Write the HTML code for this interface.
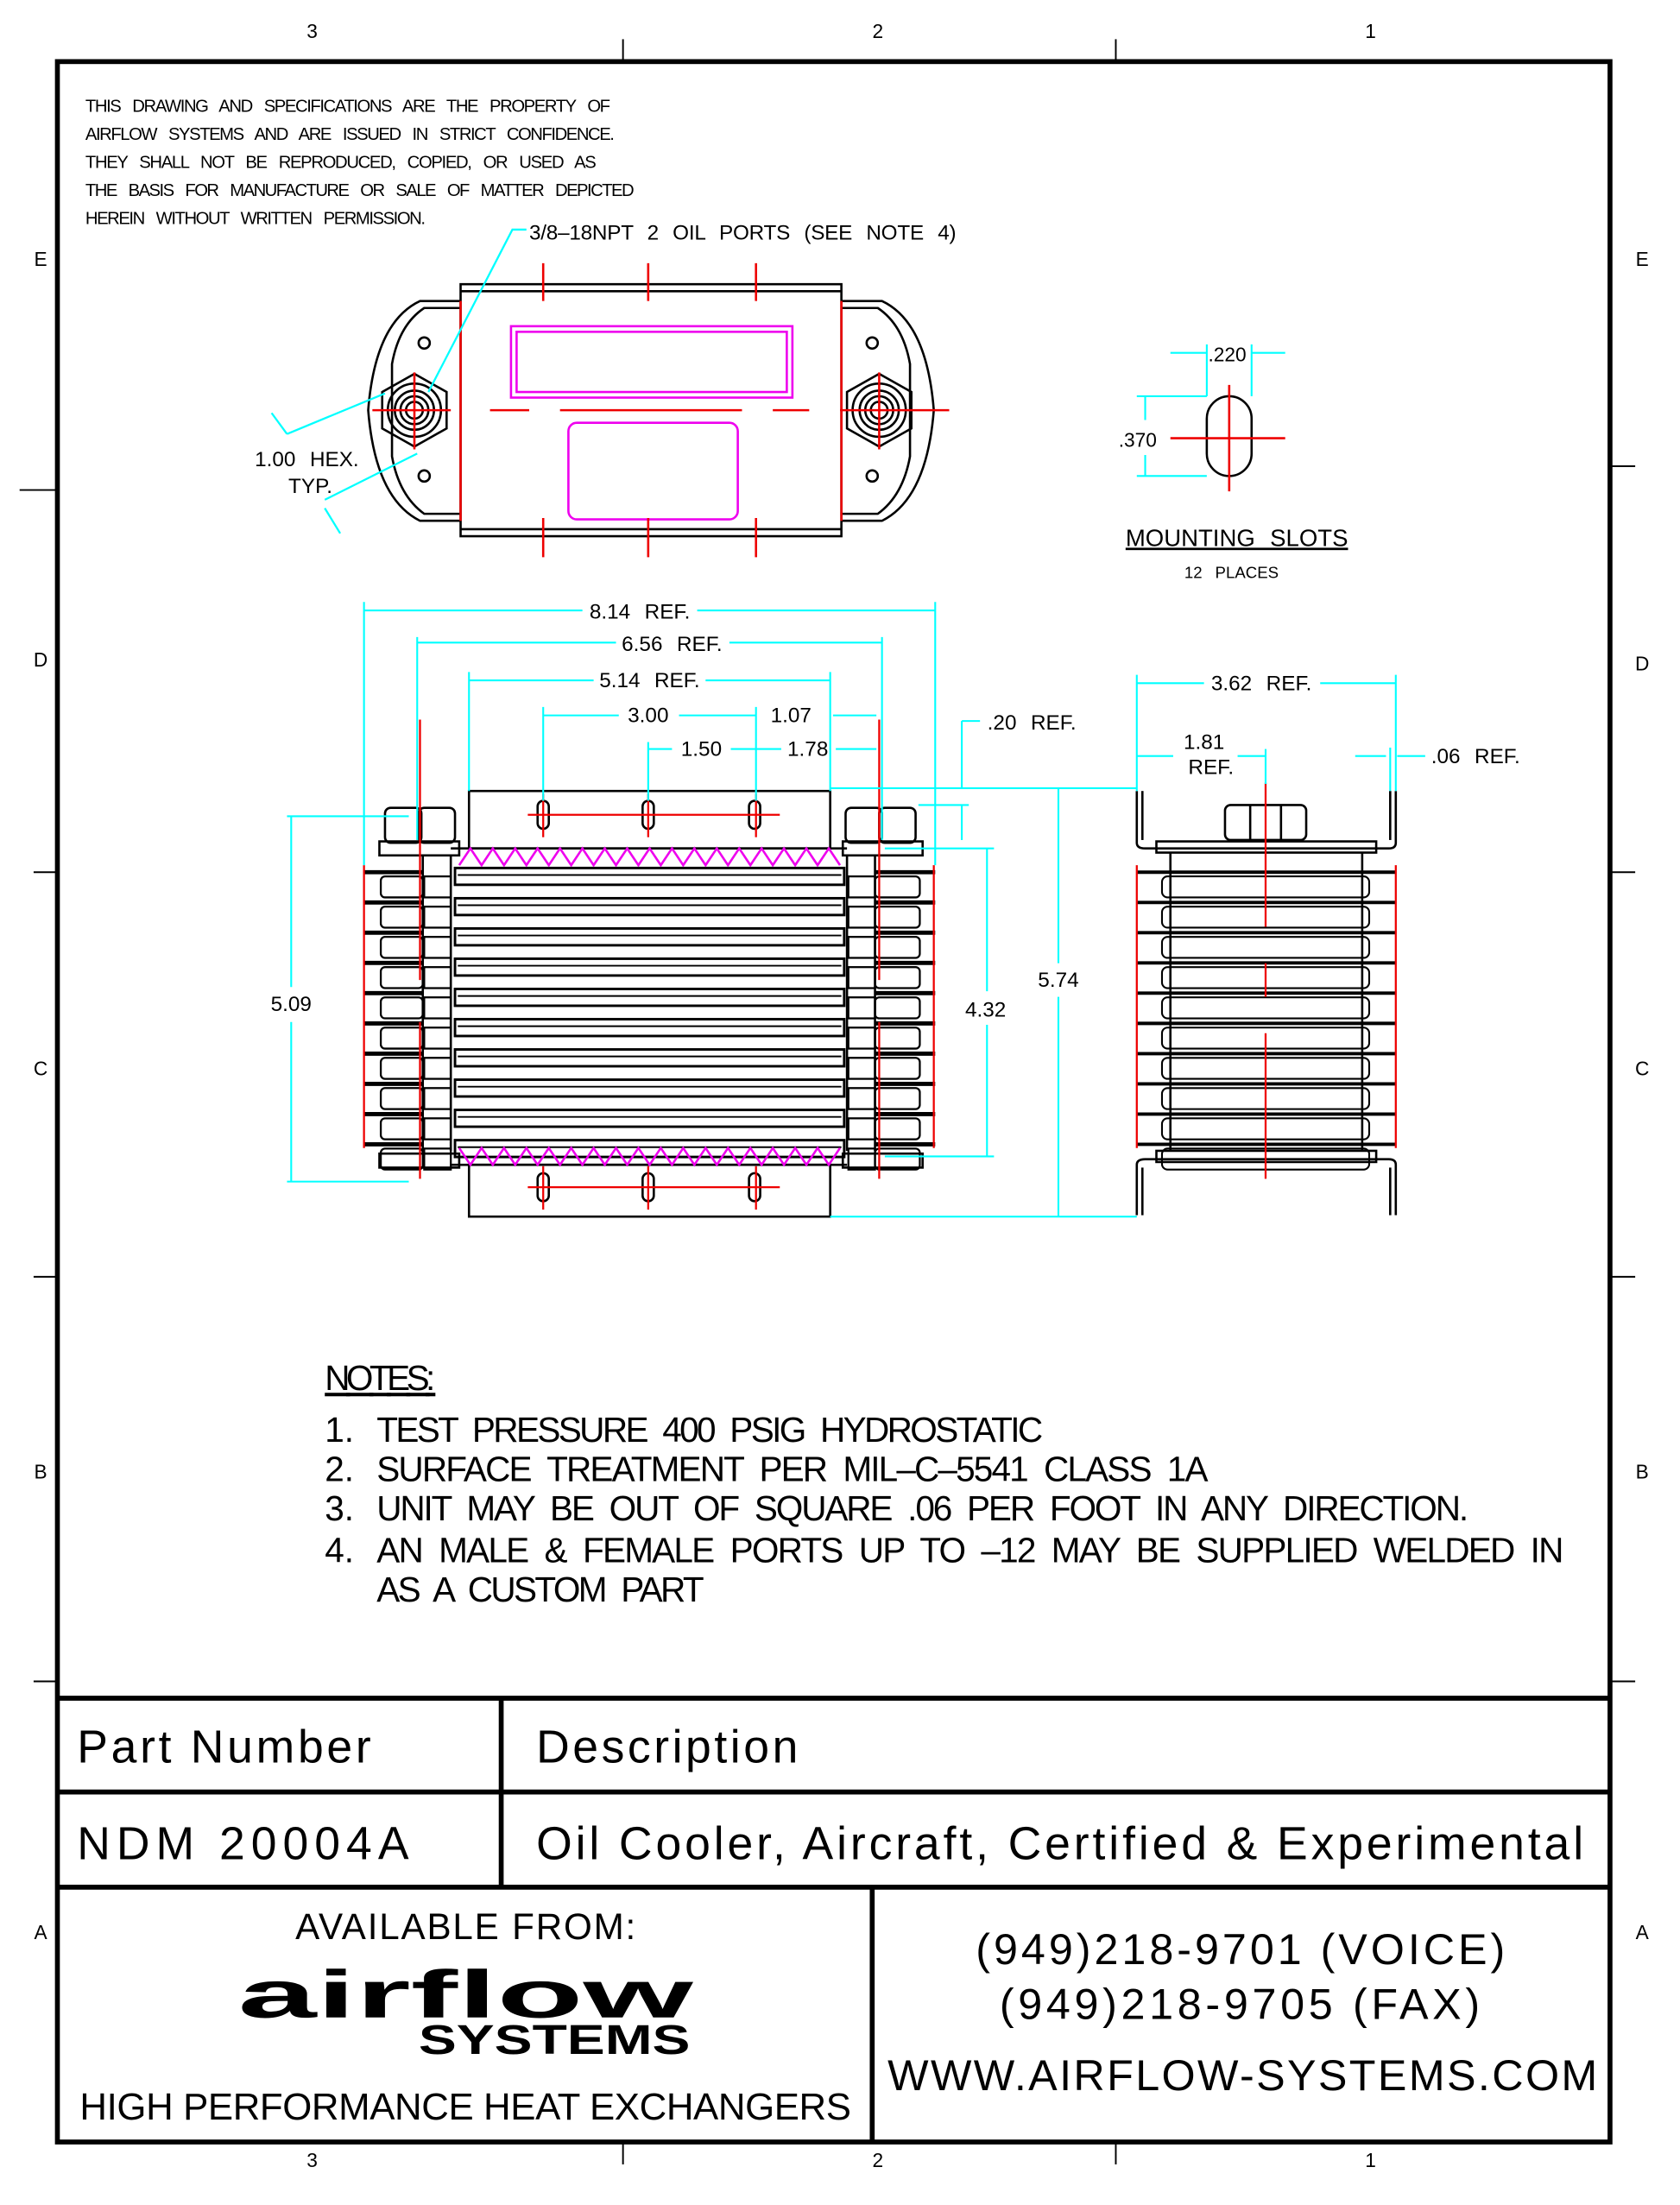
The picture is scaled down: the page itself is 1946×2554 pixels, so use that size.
<!DOCTYPE html>
<html><head><meta charset="utf-8"><style>
html,body{margin:0;padding:0;background:#fff}
svg{display:block}
text{font-family:"Liberation Sans",sans-serif;fill:#000}
.ws{word-spacing:6px}
</style></head><body>
<svg id="s" width="1946" height="2554" viewBox="0 0 1200 1575" preserveAspectRatio="none" xmlns="http://www.w3.org/2000/svg">
<rect x="0" y="0" width="1200" height="1575" fill="#fff"/>
<rect x="41" y="44" width="1109" height="1486" fill="none" stroke="#000" stroke-width="3.5"/>
<g stroke="#000" stroke-width="1.2">
<line x1="445" y1="28" x2="445" y2="44"/><line x1="797" y1="28" x2="797" y2="44"/>
<line x1="445" y1="1530" x2="445" y2="1546"/><line x1="797" y1="1530" x2="797" y2="1546"/>
<line x1="14" y1="350" x2="41" y2="350"/><line x1="24" y1="623" x2="41" y2="623"/><line x1="24" y1="912" x2="41" y2="912"/><line x1="24" y1="1201" x2="41" y2="1201"/>
<line x1="1150" y1="333" x2="1168" y2="333"/><line x1="1150" y1="623" x2="1168" y2="623"/><line x1="1150" y1="912" x2="1168" y2="912"/><line x1="1150" y1="1201" x2="1168" y2="1201"/>
</g>
<g font-size="14" text-anchor="middle">
<text x="223" y="27">3</text><text x="627" y="27">2</text><text x="979" y="27">1</text>
<text x="223" y="1548">3</text><text x="627" y="1548">2</text><text x="979" y="1548">1</text>
<text x="29" y="190">E</text><text x="29" y="476">D</text><text x="29" y="768">C</text><text x="29" y="1056">B</text><text x="29" y="1385">A</text>
<text x="1173" y="190">E</text><text x="1173" y="479">D</text><text x="1173" y="768">C</text><text x="1173" y="1056">B</text><text x="1173" y="1385">A</text>
</g>
<g font-size="12.5" class="ws">
<text x="61" y="80" textLength="375">THIS DRAWING AND SPECIFICATIONS ARE THE PROPERTY OF</text>
<text x="61" y="100" textLength="378">AIRFLOW SYSTEMS AND ARE ISSUED IN STRICT CONFIDENCE.</text>
<text x="61" y="120" textLength="365">THEY SHALL NOT BE REPRODUCED, COPIED, OR USED AS</text>
<text x="61" y="140" textLength="392">THE BASIS FOR MANUFACTURE OR SALE OF MATTER DEPICTED</text>
<text x="61" y="160" textLength="243">HEREIN WITHOUT WRITTEN PERMISSION.</text>
</g>
<text x="378" y="171" font-size="15" class="ws" textLength="305">3/8–18NPT 2 OIL PORTS (SEE NOTE 4)</text>

<g fill="none" stroke="#000" stroke-width="1.6">
<rect x="329" y="203" width="272" height="180"/>
<line x1="329" y1="208" x2="601" y2="208"/><line x1="329" y1="378" x2="601" y2="378"/>
<path d="M329 215 L300 215 Q268 230 263 293 Q268 356 300 372 L329 372"/>
<path d="M329 220 L303 220 Q285 232 280 260 L280 326 Q285 354 303 367 L329 367"/>
<path d="M601 215 L630 215 Q662 230 667 293 Q662 356 630 372 L601 372"/>
<path d="M601 220 L627 220 Q645 232 650 260 L650 326 Q645 354 627 367 L601 367"/>
<polygon points="296,267 319,280 319,306 296,319 273,306 273,280"/>
<polygon points="628,267 651,280 651,306 628,319 605,306 605,280"/>
<circle cx="296" cy="293" r="19"/><circle cx="296" cy="293" r="14"/><circle cx="296" cy="293" r="10"/><circle cx="296" cy="293" r="6"/>
<circle cx="628" cy="293" r="19"/><circle cx="628" cy="293" r="14"/><circle cx="628" cy="293" r="10"/><circle cx="628" cy="293" r="6"/>
<circle cx="303" cy="245" r="4"/><circle cx="303" cy="340" r="4"/><circle cx="623" cy="245" r="4"/><circle cx="623" cy="340" r="4"/>
</g>
<g fill="none" stroke="#e0e" stroke-width="1.6">
<rect x="365" y="233" width="201" height="51"/><rect x="369" y="237" width="193" height="43"/>
<rect x="406" y="302" width="121" height="69" rx="6"/>
</g>
<g stroke="#e00" stroke-width="1.6">
<line x1="266" y1="293" x2="322" y2="293"/><line x1="350" y1="293" x2="378" y2="293"/><line x1="400" y1="293" x2="530" y2="293"/><line x1="552" y1="293" x2="578" y2="293"/><line x1="600" y1="293" x2="678" y2="293"/>
<line x1="296" y1="266" x2="296" y2="321"/><line x1="628" y1="266" x2="628" y2="321"/>
<line x1="388" y1="188" x2="388" y2="215"/><line x1="463" y1="188" x2="463" y2="215"/><line x1="540" y1="188" x2="540" y2="215"/>
<line x1="388" y1="370" x2="388" y2="398"/><line x1="463" y1="370" x2="463" y2="398"/><line x1="540" y1="370" x2="540" y2="398"/>
<line x1="329" y1="215" x2="329" y2="372"/><line x1="601" y1="215" x2="601" y2="372"/>
</g>
<g stroke="#0ff" stroke-width="1.4" fill="none">
<polyline points="376,164 366,164 306,280"/>
<line x1="194" y1="295" x2="205" y2="310"/><line x1="205" y1="310" x2="275" y2="281"/>
<line x1="232" y1="363" x2="243" y2="381"/><line x1="232" y1="357" x2="298" y2="324"/>
</g>
<text x="182" y="333" font-size="15" class="ws">1.00 HEX.</text><text x="206" y="352" font-size="15">TYP.</text>

<rect x="862" y="283" width="32" height="57" rx="16" fill="none" stroke="#000" stroke-width="1.6"/>
<g stroke="#e00" stroke-width="1.6"><line x1="836" y1="313" x2="918" y2="313"/><line x1="878" y1="275" x2="878" y2="351"/></g>
<g stroke="#0ff" stroke-width="1.3"><line x1="862" y1="246" x2="862" y2="283"/><line x1="894" y1="246" x2="894" y2="283"/><line x1="836" y1="252" x2="862" y2="252"/><line x1="894" y1="252" x2="918" y2="252"/>
<line x1="812" y1="283" x2="862" y2="283"/><line x1="812" y1="340" x2="862" y2="340"/><line x1="818" y1="283" x2="818" y2="300"/><line x1="818" y1="325" x2="818" y2="340"/></g>
<text x="863" y="258" font-size="14">.220</text>
<text x="799" y="319" font-size="14">.370</text>
<text x="804" y="390" font-size="17" text-decoration="underline" class="ws">MOUNTING SLOTS</text>
<text x="846" y="413" font-size="11.5" class="ws">12 PLACES</text>

<g fill="none" stroke="#000" stroke-width="1.6">
<rect x="335" y="565" width="258" height="41"/>
<rect x="335" y="832" width="258" height="37"/>
<rect x="275" y="577" width="26" height="25" rx="4"/><rect x="299" y="577" width="26" height="25" rx="4"/>
<rect x="604" y="577" width="26" height="25" rx="4"/><rect x="628" y="577" width="26" height="25" rx="4"/>
<rect x="271" y="601" width="57" height="10"/><rect x="602" y="601" width="57" height="10"/>
<rect x="271" y="824" width="57" height="10"/><rect x="602" y="824" width="57" height="10"/>
<line x1="322" y1="606" x2="605" y2="606"/><line x1="322" y1="832" x2="605" y2="832"/>
<line x1="302" y1="611" x2="302" y2="822"/><line x1="322" y1="611" x2="322" y2="822"/>
<line x1="605" y1="611" x2="605" y2="822"/><line x1="625" y1="611" x2="625" y2="822"/>
</g>
<g id="fins"></g>
<g id="zz" fill="none" stroke="#e0e" stroke-width="1.6"></g>
<g fill="none" stroke="#000" stroke-width="1.6">
<rect x="384" y="572" width="8" height="20" rx="4"/><rect x="459" y="572" width="8" height="20" rx="4"/><rect x="535" y="572" width="8" height="20" rx="4"/>
<rect x="384" y="838" width="8" height="20" rx="4"/><rect x="459" y="838" width="8" height="20" rx="4"/><rect x="535" y="838" width="8" height="20" rx="4"/>
</g>
<g stroke="#e00" stroke-width="1.4">
<line x1="300" y1="514" x2="300" y2="700"/><line x1="300" y1="730" x2="300" y2="842"/>
<line x1="628" y1="514" x2="628" y2="700"/><line x1="628" y1="730" x2="628" y2="842"/>
<line x1="377" y1="582" x2="557" y2="582"/><line x1="377" y1="848" x2="557" y2="848"/>
<line x1="388" y1="567" x2="388" y2="598"/><line x1="463" y1="567" x2="463" y2="598"/><line x1="540" y1="567" x2="540" y2="598"/>
<line x1="388" y1="833" x2="388" y2="864"/><line x1="463" y1="833" x2="463" y2="864"/><line x1="540" y1="833" x2="540" y2="864"/>
<line x1="260" y1="618" x2="260" y2="820"/><line x1="667" y1="618" x2="667" y2="820"/>
</g>
<g stroke="#0ff" stroke-width="1.3" fill="none">
<line x1="260" y1="430" x2="260" y2="618"/><line x1="668" y1="430" x2="668" y2="618"/>
<line x1="260" y1="436" x2="416" y2="436"/><line x1="498" y1="436" x2="668" y2="436"/>
<line x1="298" y1="455" x2="298" y2="600"/><line x1="630" y1="455" x2="630" y2="600"/>
<line x1="298" y1="459" x2="440" y2="459"/><line x1="521" y1="459" x2="630" y2="459"/>
<line x1="335" y1="480" x2="335" y2="565"/><line x1="593" y1="480" x2="593" y2="565"/>
<line x1="335" y1="486" x2="424" y2="486"/><line x1="504" y1="486" x2="593" y2="486"/>
<line x1="388" y1="505" x2="388" y2="572"/><line x1="540" y1="505" x2="540" y2="572"/><line x1="463" y1="530" x2="463" y2="572"/>
<line x1="388" y1="511" x2="442" y2="511"/><line x1="485" y1="511" x2="540" y2="511"/>
<line x1="595" y1="511" x2="626" y2="511"/>
<line x1="463" y1="535" x2="480" y2="535"/><line x1="522" y1="535" x2="558" y2="535"/><line x1="597" y1="535" x2="626" y2="535"/>
<line x1="205" y1="583" x2="292" y2="583"/><line x1="205" y1="844" x2="292" y2="844"/>
<line x1="208" y1="583" x2="208" y2="705"/><line x1="208" y1="730" x2="208" y2="844"/>
<line x1="632" y1="606" x2="710" y2="606"/><line x1="632" y1="826" x2="710" y2="826"/>
<line x1="705" y1="606" x2="705" y2="708"/><line x1="705" y1="732" x2="705" y2="826"/>
<line x1="593" y1="563" x2="812" y2="563"/><line x1="593" y1="869" x2="812" y2="869"/>
<line x1="756" y1="563" x2="756" y2="688"/><line x1="756" y1="712" x2="756" y2="869"/>
<line x1="656" y1="575" x2="692" y2="575"/><line x1="687" y1="515" x2="687" y2="563"/><line x1="687" y1="575" x2="687" y2="600"/><line x1="687" y1="515" x2="700" y2="515"/>
</g>
<g font-size="15" text-anchor="middle" class="ws">
<text x="457" y="442">8.14 REF.</text><text x="480" y="465">6.56 REF.</text><text x="464" y="491">5.14 REF.</text>
<text x="463" y="516">3.00</text><text x="565" y="516">1.07</text><text x="501" y="540">1.50</text><text x="577" y="540">1.78</text>
<text x="208" y="722">5.09</text><text x="704" y="726">4.32</text><text x="756" y="705">5.74</text>
<text x="737" y="521">.20 REF.</text>
<text x="901" y="493">3.62 REF.</text><text x="860" y="535">1.81</text><text x="865" y="553">REF.</text><text x="1054" y="545">.06 REF.</text>
</g>

<g fill="none" stroke="#000" stroke-width="1.6">
<path d="M812 565 L812 602 Q812 606 818 606 L992 606 Q997 606 997 602 L997 565"/>
<line x1="816" y1="565" x2="816" y2="600"/><line x1="993" y1="565" x2="993" y2="600"/>
<path d="M812 868 L812 832 Q812 828 818 828 L992 828 Q997 828 997 832 L997 868"/>
<line x1="816" y1="868" x2="816" y2="834"/><line x1="993" y1="868" x2="993" y2="834"/>
<rect x="875" y="575" width="58" height="25" rx="4"/><line x1="893" y1="575" x2="893" y2="600"/><line x1="915" y1="575" x2="915" y2="600"/>
<rect x="826" y="601" width="157" height="8"/><rect x="826" y="822" width="157" height="8"/>
<line x1="836" y1="609" x2="836" y2="822"/><line x1="973" y1="609" x2="973" y2="822"/>
</g>
<g id="sfins"></g>
<g stroke="#e00" stroke-width="1.4"><line x1="904" y1="559" x2="904" y2="662"/><line x1="904" y1="688" x2="904" y2="712"/><line x1="904" y1="738" x2="904" y2="842"/><line x1="812" y1="618" x2="812" y2="820"/><line x1="997" y1="618" x2="997" y2="820"/></g>
<g stroke="#0ff" stroke-width="1.3">
<line x1="812" y1="482" x2="812" y2="565"/><line x1="997" y1="482" x2="997" y2="565"/>
<line x1="812" y1="488" x2="860" y2="488"/><line x1="943" y1="488" x2="997" y2="488"/>
<line x1="904" y1="535" x2="904" y2="560"/><line x1="812" y1="540" x2="838" y2="540"/><line x1="884" y1="540" x2="904" y2="540"/>
<line x1="968" y1="540" x2="990" y2="540"/><line x1="998" y1="540" x2="1018" y2="540"/><line x1="993" y1="534" x2="993" y2="565"/>
</g>

<g font-size="25" class="ws">
<text x="232" y="993" text-decoration="underline" textLength="79">NOTES:</text>
<text x="232" y="1030">1.</text><text x="269" y="1030" textLength="476">TEST PRESSURE 400 PSIG HYDROSTATIC</text>
<text x="232" y="1058">2.</text><text x="269" y="1058" textLength="594">SURFACE TREATMENT PER MIL–C–5541 CLASS 1A</text>
<text x="232" y="1086">3.</text><text x="269" y="1086" textLength="780">UNIT MAY BE OUT OF SQUARE .06 PER FOOT IN ANY DIRECTION.</text>
<text x="232" y="1116">4.</text><text x="269" y="1116" textLength="848">AN MALE &amp; FEMALE PORTS UP TO –12 MAY BE SUPPLIED WELDED IN</text>
<text x="269" y="1144" textLength="234">AS A CUSTOM PART</text>
</g>

<g stroke="#000" stroke-width="3.5">
<line x1="41" y1="1213" x2="1150" y2="1213"/><line x1="41" y1="1280" x2="1150" y2="1280"/><line x1="41" y1="1348" x2="1150" y2="1348"/>
<line x1="358" y1="1213" x2="358" y2="1348"/><line x1="623" y1="1348" x2="623" y2="1530"/>
</g>
<g font-size="33">
<text x="55" y="1259" textLength="210">Part Number</text>
<text x="383" y="1259" textLength="187">Description</text>
<text x="55" y="1328" textLength="237">NDM 20004A</text>
<text x="383" y="1328" textLength="748">Oil Cooler, Aircraft, Certified &amp; Experimental</text>
</g>
<text x="211" y="1385" font-size="26" textLength="243">AVAILABLE FROM:</text>
<text x="170" y="1441" font-size="48" font-weight="bold" textLength="325" lengthAdjust="spacingAndGlyphs" fill="#111">airflow</text>
<text x="299" y="1467" font-size="30" font-weight="bold" textLength="194" lengthAdjust="spacingAndGlyphs" fill="#111">SYSTEMS</text>
<text x="57" y="1514" font-size="27" textLength="551">HIGH PERFORMANCE HEAT EXCHANGERS</text>
<g font-size="31">
<text x="697" y="1403" textLength="378">(949)218-9701  (VOICE)</text>
<text x="714" y="1442" textLength="343">(949)218-9705  (FAX)</text>
<text x="634" y="1493" textLength="507">WWW.AIRFLOW-SYSTEMS.COM</text>
</g>
</svg>
<script>
var NS="http://www.w3.org/2000/svg";
function el(p,t,a){var e=document.createElementNS(NS,t);for(var k in a)e.setAttribute(k,a[k]);document.getElementById(p).appendChild(e);return e;}
for(var i=0;i<10;i++){var y=620+i*21.6;
 el("fins","rect",{x:325,y:y,width:278,height:12,fill:"none",stroke:"#000","stroke-width":1.8});
 el("fins","line",{x1:327,y1:y+5,x2:601,y2:y+5,stroke:"#000","stroke-width":1.2});
 el("fins","line",{x1:260,y1:y+3,x2:302,y2:y+3,stroke:"#000","stroke-width":3});
 el("fins","line",{x1:625,y1:y+3,x2:668,y2:y+3,stroke:"#000","stroke-width":3});
 el("fins","rect",{x:272,y:y+6,width:30,height:15,rx:3,fill:"none",stroke:"#000","stroke-width":1.4});
 el("fins","rect",{x:625,y:y+6,width:32,height:15,rx:3,fill:"none",stroke:"#000","stroke-width":1.4});
 el("fins","rect",{x:303,y:y+6,width:19,height:15,fill:"none",stroke:"#000","stroke-width":1.4});
 el("fins","rect",{x:606,y:y+6,width:19,height:15,fill:"none",stroke:"#000","stroke-width":1.4});
 el("sfins","line",{x1:812,y1:y+3,x2:997,y2:y+3,stroke:"#000","stroke-width":2.4});
 el("sfins","rect",{x:830,y:y+6,width:148,height:15,rx:4,fill:"none",stroke:"#000","stroke-width":1.3});
}
var d1="M328 618",d2="M328 820",st=16;
for(var x=328;x<596;x+=st){d1+=" L"+(x+st/2)+" 606 L"+(x+st)+" 618";d2+=" L"+(x+st/2)+" 832 L"+(x+st)+" 820";}
el("zz","path",{d:d1});el("zz","path",{d:d2});
</script>
</body></html>
